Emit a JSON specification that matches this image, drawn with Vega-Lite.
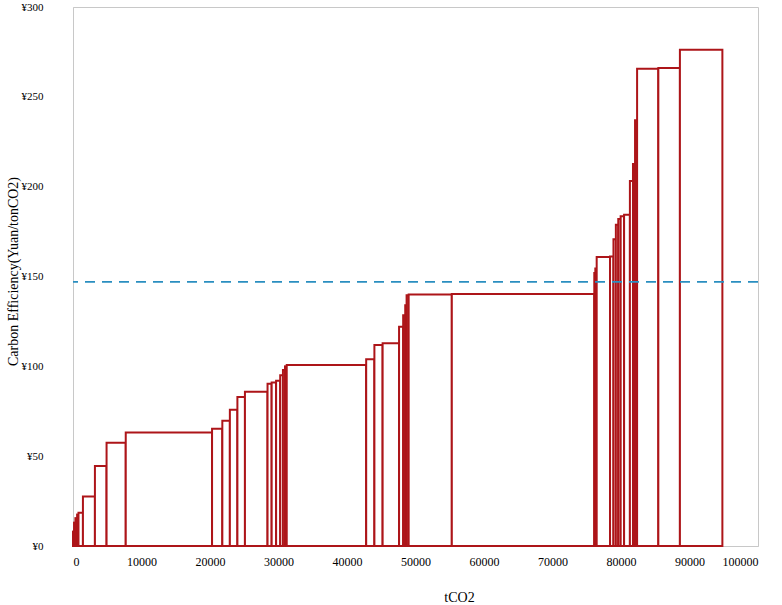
{
  "$schema": "https://vega.github.io/schema/vega-lite/v6.json",
  "width": 685,
  "height": 539,
  "autosize": "none",
  "padding": {"left": 73, "top": 7, "right": 24, "bottom": 59},
  "background": "white",
  "config": {
    "view": {"stroke": "#c8c8c8", "strokeWidth": 1},
    "font": "Liberation Serif",
    "axis": {
      "labelFont": "Liberation Serif",
      "titleFont": "Liberation Serif",
      "labelColor": "#000000",
      "titleColor": "#000000",
      "labelFontSize": 12,
      "titleFontSize": 14,
      "titleFontWeight": "normal",
      "grid": false,
      "ticks": false,
      "domainColor": "#c8c8c8"
    }
  },
  "datasets": {
    "bars": [
      {"x0": 0, "x1": 150, "cost": 8},
      {"x0": 150, "x1": 350, "cost": 13},
      {"x0": 350, "x1": 600, "cost": 15.5},
      {"x0": 600, "x1": 800, "cost": 17.5},
      {"x0": 800, "x1": 1450, "cost": 18.5},
      {"x0": 1450, "x1": 3200, "cost": 27.5},
      {"x0": 3200, "x1": 4900, "cost": 44.5},
      {"x0": 4900, "x1": 7700, "cost": 57.5},
      {"x0": 7700, "x1": 20300, "cost": 63.2},
      {"x0": 20300, "x1": 21800, "cost": 65.3},
      {"x0": 21800, "x1": 22900, "cost": 69.7},
      {"x0": 22900, "x1": 24000, "cost": 75.9},
      {"x0": 24000, "x1": 25100, "cost": 82.9},
      {"x0": 25100, "x1": 28400, "cost": 85.9},
      {"x0": 28400, "x1": 29000, "cost": 90.3},
      {"x0": 29000, "x1": 29650, "cost": 91.0},
      {"x0": 29650, "x1": 30250, "cost": 92.0},
      {"x0": 30250, "x1": 30650, "cost": 95.0},
      {"x0": 30650, "x1": 30950, "cost": 98.0},
      {"x0": 30950, "x1": 31200, "cost": 100.0},
      {"x0": 31200, "x1": 42800, "cost": 100.8},
      {"x0": 42800, "x1": 44000, "cost": 103.9},
      {"x0": 44000, "x1": 45200, "cost": 111.9},
      {"x0": 45200, "x1": 47600, "cost": 112.8},
      {"x0": 47600, "x1": 48200, "cost": 122.0},
      {"x0": 48200, "x1": 48500, "cost": 128.5},
      {"x0": 48500, "x1": 48700, "cost": 134.0},
      {"x0": 48700, "x1": 49000, "cost": 139.5},
      {"x0": 49000, "x1": 55300, "cost": 140.0},
      {"x0": 55300, "x1": 76100, "cost": 140.2},
      {"x0": 76100, "x1": 76250, "cost": 152.0},
      {"x0": 76250, "x1": 76450, "cost": 154.5},
      {"x0": 76450, "x1": 78400, "cost": 160.8},
      {"x0": 78400, "x1": 78900, "cost": 161.2},
      {"x0": 78900, "x1": 79250, "cost": 170.7},
      {"x0": 79250, "x1": 79600, "cost": 178.8},
      {"x0": 79600, "x1": 79950, "cost": 182.0},
      {"x0": 79950, "x1": 80450, "cost": 183.6},
      {"x0": 80450, "x1": 81300, "cost": 184.3},
      {"x0": 81300, "x1": 81750, "cost": 203.2},
      {"x0": 81750, "x1": 82050, "cost": 212.6},
      {"x0": 82050, "x1": 82350, "cost": 237.0},
      {"x0": 82350, "x1": 85450, "cost": 265.7},
      {"x0": 85450, "x1": 88600, "cost": 266.0},
      {"x0": 88600, "x1": 94800, "cost": 276.2}
    ],
    "threshold": [{"cost": 147}]
  },
  "layer": [
    {
      "data": {"name": "bars"},
      "mark": {"type": "rect", "fill": "white", "stroke": "#ad1519", "strokeWidth": 2},
      "encoding": {
        "x": {
          "field": "x0", "type": "quantitative",
          "scale": {"domain": [0, 100000], "nice": false},
          "axis": {
            "values": [0, 10000, 20000, 30000, 40000, 50000, 60000, 70000, 80000, 90000, 100000],
            "format": "d",
            "labelPadding": 10,
            "title": "tCO2",
            "titleX": 386,
            "titleY": 51,
            "titleBaseline": "middle"
          }
        },
        "x2": {"field": "x1"},
        "y": {
          "field": "cost", "type": "quantitative",
          "scale": {"domain": [0, 300], "nice": false},
          "axis": {
            "values": [0, 50, 100, 150, 200, 250, 300],
            "labelExpr": "'¥' + datum.value",
            "labelFontSize": 11,
            "labelPadding": 30,
            "title": "Carbon Efficiency(Yuan/tonCO2)",
            "titleX": -60,
            "titleY": 264,
            "titleBaseline": "middle"
          }
        },
        "y2": {"datum": 0}
      }
    },
    {
      "data": {"name": "threshold"},
      "mark": {"type": "rule", "stroke": "#2a8ec0", "strokeWidth": 1.6, "strokeDash": [10, 7]},
      "encoding": {
        "y": {"field": "cost", "type": "quantitative"}
      }
    }
  ]
}
